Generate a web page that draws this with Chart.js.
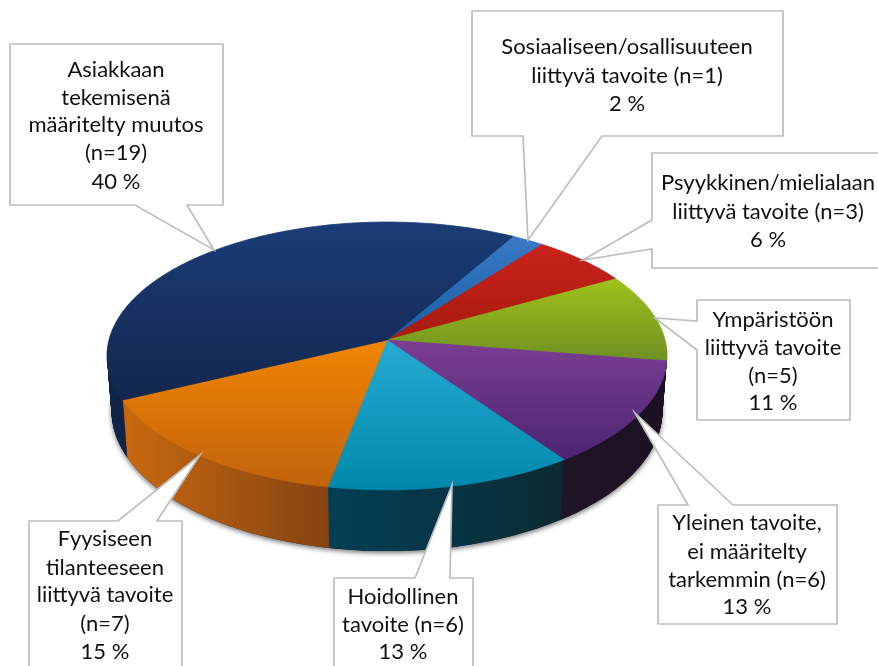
<!DOCTYPE html>
<html><head><meta charset="utf-8">
<style>html,body{margin:0;padding:0;background:#fff}canvas{display:block}</style>
<script src="https://cdn.jsdelivr.net/npm/chart.js@4/dist/chart.umd.js"></script>
</head><body><canvas id="c" width="878" height="666"></canvas>
<script>
// Data, clockwise from the pie's start angle
const categories = ['Sosiaaliseen/osallisuuteen liittyvä tavoite','Psyykkinen/mielialaan liittyvä tavoite','Ympäristöön liittyvä tavoite','Yleinen tavoite, ei määritelty tarkemmin','Hoidollinen tavoite','Fyysiseen tilanteeseen liittyvä tavoite','Asiakkaan tekemisenä määritelty muutos'];
const counts = [1,3,5,6,6,7,19];
const baseColors = ['#2a6ab6','#b81e14','#8aa81e','#642f84','#1599bf','#dd7508','#17305f'];

// Callout text
const calloutLines = [
 ['Sosiaaliseen/osallisuuteen','liittyvä tavoite (n=1)','2 %'],
 ['Psyykkinen/mielialaan','liittyvä tavoite (n=3)','6 %'],
 ['Ympäristöön','liittyvä tavoite','(n=5)','11 %'],
 ['Yleinen tavoite,','ei määritelty','tarkemmin (n=6)','13 %'],
 ['Hoidollinen','tavoite (n=6)','13 %'],
 ['Fyysiseen','tilanteeseen','liittyvä tavoite','(n=7)','15 %'],
 ['Asiakkaan','tekemisenä','määritelty muutos','(n=19)','40 %']
];
// Styling
const topStops = [['#3a78c4','#1560a8'],['#c8221a','#a81a10'],['#9fc01c','#6f8f22'],['#7b3e94','#4a2472'],['#26aad2','#0088ac'],['#f08500','#c2620e'],['#1b3c76','#13264e']];
const topRange = [[238,340],[246,340],[280,362],[340,462],[340,490],[340,488],[222,402]];
const wallStops = [['#1a3f70','#1a3f70'],['#6a1008','#6a1008'],['#4a5c10','#4a5c10'],['#211626','#1b1024'],['#033f55','#0b2a34'],['#c9690f','#864312'],['#102448','#102448']];
const callouts = [
 {cx:627,y:[47,76,104],poly:[[472,11],[783,11],[783,136],[602,136],[528,240],[523,136],[472,136]]},
 {cx:768,y:[183,212,240],poly:[[652,153],[890,153],[890,268],[652,268],[652,249],[583,260],[652,220]]},
 {cx:773,y:[320,348,376,403],poly:[[697,300],[850,300],[850,420],[697,420],[697,350],[655,318],[697,321]]},
 {cx:747,y:[523,552,580,607],poly:[[658,505],[688,505],[635,413],[733,505],[837,505],[837,624],[658,624]]},
 {cx:403,y:[597,625,652],poly:[[334,578],[415,578],[452,485],[450,578],[473,578],[473,680],[334,680]]},
 {cx:105,y:[539,568,595,624,652],poly:[[29,521],[118,521],[200,455],[157,521],[182,521],[182,680],[29,680]]},
 {cx:116,y:[70,98,125,153,182],poly:[[10,44],[223,44],[223,205],[187,205],[214,250],[135,205],[10,205]]}
];

// Perspective view of the pie disc
const view = {x0:387,y0:340,a:278,b:132,k:0.119,depth:54,taper:0.016};
function project(el,px,py,z){
  const u=(px-el.x)/el.outerRadius, v=(py-el.y)/el.outerRadius, w=1-view.k*v;
  const s=1-view.taper*z/view.depth;
  return [view.x0+view.a*u/w*s, view.y0+(view.b*v+z)/w];
}
// A context wrapper: the library's arc path is drawn through the perspective view
function viewContext(ctx,el,z,fill,withSeam){
  const m={
    arc(x,y,r,a0,a1,ccw){
      let d=a1-a0;
      if(ccw&&d>0)d-=2*Math.PI; if(!ccw&&d<0)d+=2*Math.PI;
      const n=Math.max(1,Math.ceil(Math.abs(d)/0.02));
      for(let i=0;i<=n;i++){
        const t=a0+d*i/n, p=project(el,x+r*Math.cos(t),y+r*Math.sin(t),z);
        ctx.lineTo(p[0],p[1]);
      }
    },
    lineTo(x,y){const p=project(el,x,y,z);ctx.lineTo(p[0],p[1]);},
    moveTo(x,y){const p=project(el,x,y,z);ctx.moveTo(p[0],p[1]);},
    fill(){
      ctx.fillStyle=fill;ctx.fill();
      if(withSeam){ctx.strokeStyle=fill;ctx.lineWidth=0.8;ctx.stroke();}
    },
    stroke(){},
    translate(){}
  };
  return new Proxy(ctx,{
    get(t,p){ if(m[p])return m[p]; const val=t[p]; return typeof val==='function'?val.bind(t):val; },
    set(t,p,val){ if(p==='fillStyle'||p==='strokeStyle')return true; t[p]=val; return true; }
  });
}
const pie3d={
  id:'pie3d',
  beforeDatasetsDraw(chart){
    const ctx=chart.ctx, els=chart.getDatasetMeta(0).data;
    const walls=els.map((el,i)=>{
      const pts=[];
      for(let j=0;j<=40;j++){
        const t=el.startAngle+(el.endAngle-el.startAngle)*j/40;
        pts.push(project(el,el.x+el.outerRadius*Math.cos(t),el.y+el.outerRadius*Math.sin(t),0)[0]);
      }
      const g=ctx.createLinearGradient(Math.min(...pts),0,Math.max(...pts),0);
      g.addColorStop(0,wallStops[i][0]);g.addColorStop(1,wallStops[i][1]);
      return g;
    });
    // soft shadow under the base
    ctx.save();
    ctx.shadowColor='rgba(0,0,0,0.55)';ctx.shadowBlur=5;ctx.shadowOffsetY=2;
    els.forEach((el,i)=>el.draw(viewContext(ctx,el,view.depth,'#222',false)));
    ctx.restore();
    // side wall, layer by layer
    for(let z=view.depth;z>0;z-=1){
      els.forEach((el,i)=>el.draw(viewContext(ctx,el,z,walls[i],false)));
    }
    // top face
    els.forEach((el,i)=>{
      const g=ctx.createLinearGradient(0,topRange[i][0],0,topRange[i][1]);
      g.addColorStop(0,topStops[i][0]);g.addColorStop(1,topStops[i][1]);
      el.draw(viewContext(ctx,el,0,g,true));
    });
    return false;
  },
  afterDraw(chart){
    const ctx=chart.ctx;
    ctx.save();
    callouts.forEach((c,i)=>{
      ctx.beginPath();
      c.poly.forEach((p,j)=>j?ctx.lineTo(p[0],p[1]):ctx.moveTo(p[0],p[1]));
      ctx.closePath();
      ctx.fillStyle='#fff';ctx.fill();
      ctx.strokeStyle='#bdbdbd';ctx.lineWidth=1.7;ctx.lineJoin='miter';ctx.stroke();
      ctx.fillStyle='#111';ctx.font='22px Lato';ctx.textAlign='center';ctx.textBaseline='middle';
      calloutLines[i].forEach((t,j)=>ctx.fillText(t,c.cx,c.y[j]));
    });
    ctx.restore();
  }
};
new Chart(document.getElementById('c'),{
  type:'pie',
  data:{labels:categories,datasets:[{data:counts,backgroundColor:baseColors,borderWidth:0}]},
  options:{responsive:false,animation:false,rotation:30,
    layout:{padding:0},
    plugins:{legend:{display:false},tooltip:{enabled:false}}},
  plugins:[pie3d]
});
</script></body></html>
